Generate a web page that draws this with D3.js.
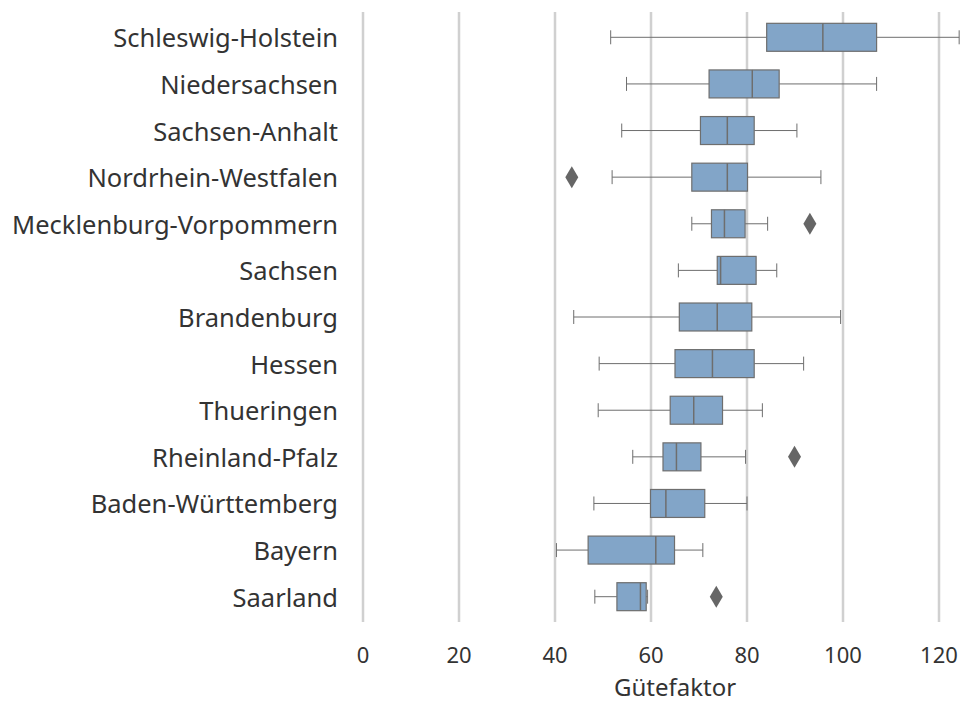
<!DOCTYPE html>
<html>
<head>
<meta charset="utf-8">
<script src="https://cdn.jsdelivr.net/npm/d3@7"></script>
<style>
  html, body { margin: 0; padding: 0; background: #fff; }
  text { font-family: "Noto Sans", "Open Sans", sans-serif; fill: #333; }
</style>
</head>
<body>
<svg id="chart" width="963" height="704"></svg>
<script>
// Boxplot summary per Bundesland: whisker low, Q1, median, Q3, whisker high
const states = ["Schleswig-Holstein", "Niedersachsen", "Sachsen-Anhalt", "Nordrhein-Westfalen",
  "Mecklenburg-Vorpommern", "Sachsen", "Brandenburg", "Hessen", "Thueringen",
  "Rheinland-Pfalz", "Baden-Württemberg", "Bayern", "Saarland"];
const whiskerLow  = [51.6, 54.9, 53.9, 51.9, 68.5, 65.7, 43.9, 49.2, 49.0, 56.2, 48.1, 40.3, 48.3];
const q1          = [84.1, 72.1, 70.3, 68.5, 72.6, 73.8, 65.9, 65.0, 64.0, 62.5, 59.9, 46.9, 52.9];
const median      = [95.8, 81.1, 75.9, 75.9, 75.3, 74.5, 73.8, 72.8, 68.9, 65.3, 63.1, 61.0, 57.8];
const q3          = [107.0, 86.7, 81.5, 80.1, 79.6, 81.9, 81.0, 81.5, 74.9, 70.4, 71.2, 64.9, 59.0];
const whiskerHigh = [124.2, 107.0, 90.4, 95.4, 84.3, 86.2, 99.5, 91.8, 83.2, 79.7, 80.0, 70.8, 59.3];
const outliers = [
  { state: "Nordrhein-Westfalen", value: 43.5 },
  { state: "Mecklenburg-Vorpommern", value: 93.1 },
  { state: "Rheinland-Pfalz", value: 89.9 },
  { state: "Saarland", value: 73.6 }
];
const xTicks = [0, 20, 40, 60, 80, 100, 120];

const svg = d3.select("#chart");
const margin = { top: 14, right: 0, bottom: 84, left: 363 };
const W = 963, H = 704;

const x = d3.scaleLinear().domain([0, 125]).range([margin.left, margin.left + 125 * 4.8]);
const y = d3.scaleBand().domain(states).range([margin.top, H - margin.bottom]).paddingInner(0).paddingOuter(0);

const boxH = y.bandwidth() * 0.6;
const capH = boxH / 2;
const lineCol = "#6e6e6e";

// vertical grid lines
svg.append("g").selectAll("line").data(xTicks).join("line")
  .attr("x1", d => x(d)).attr("x2", d => x(d))
  .attr("y1", margin.top - 2).attr("y2", H - margin.bottom + 2)
  .attr("stroke", "#d0d0d0").attr("stroke-width", 2.5);

const data = states.map((s, i) => ({
  s, lo: whiskerLow[i], q1: q1[i], med: median[i], q3: q3[i], hi: whiskerHigh[i]
}));

const g = svg.append("g").selectAll("g").data(data).join("g")
  .attr("transform", d => `translate(0,${y(d.s) + y.bandwidth() / 2})`);

// whiskers
g.append("line").attr("x1", d => x(d.lo)).attr("x2", d => x(d.q1)).attr("y1", 0).attr("y2", 0)
  .attr("stroke", lineCol).attr("stroke-width", 1);
g.append("line").attr("x1", d => x(d.q3)).attr("x2", d => x(d.hi)).attr("y1", 0).attr("y2", 0)
  .attr("stroke", lineCol).attr("stroke-width", 1);
// caps
g.append("line").attr("x1", d => x(d.lo)).attr("x2", d => x(d.lo)).attr("y1", -capH / 2).attr("y2", capH / 2)
  .attr("stroke", lineCol).attr("stroke-width", 1);
g.append("line").attr("x1", d => x(d.hi)).attr("x2", d => x(d.hi)).attr("y1", -capH / 2).attr("y2", capH / 2)
  .attr("stroke", lineCol).attr("stroke-width", 1);
// boxes
g.append("rect").attr("x", d => x(d.q1)).attr("width", d => x(d.q3) - x(d.q1))
  .attr("y", -boxH / 2).attr("height", boxH)
  .attr("fill", "#82a5c8").attr("stroke", lineCol).attr("stroke-width", 1.2);
// medians
g.append("line").attr("x1", d => x(d.med)).attr("x2", d => x(d.med)).attr("y1", -boxH / 2).attr("y2", boxH / 2)
  .attr("stroke", lineCol).attr("stroke-width", 1.5);

// outliers as diamonds
const dw = 6.5, dh = 11;
svg.append("g").selectAll("path").data(outliers).join("path")
  .attr("transform", d => `translate(${x(d.value)},${y(d.state) + y.bandwidth() / 2})`)
  .attr("d", `M0,${-dh} L${dw},0 L0,${dh} L${-dw},0 Z`)
  .attr("fill", "#666");

// y labels
svg.append("g").selectAll("text").data(states).join("text")
  .attr("x", margin.left - 25).attr("y", d => y(d) + y.bandwidth() / 2)
  .attr("text-anchor", "end").attr("dominant-baseline", "central")
  .attr("font-size", 25.5).text(d => d);

// x tick labels
svg.append("g").selectAll("text").data(xTicks).join("text")
  .attr("x", d => x(d)).attr("y", 654)
  .attr("text-anchor", "middle").attr("dominant-baseline", "central")
  .attr("font-size", 22).text(d => d);

// x axis title
svg.append("text").attr("x", x(60) + 24).attr("y", 696)
  .attr("text-anchor", "middle")
  .attr("font-size", 24).text("Gütefaktor");
</script>
</body>
</html>
